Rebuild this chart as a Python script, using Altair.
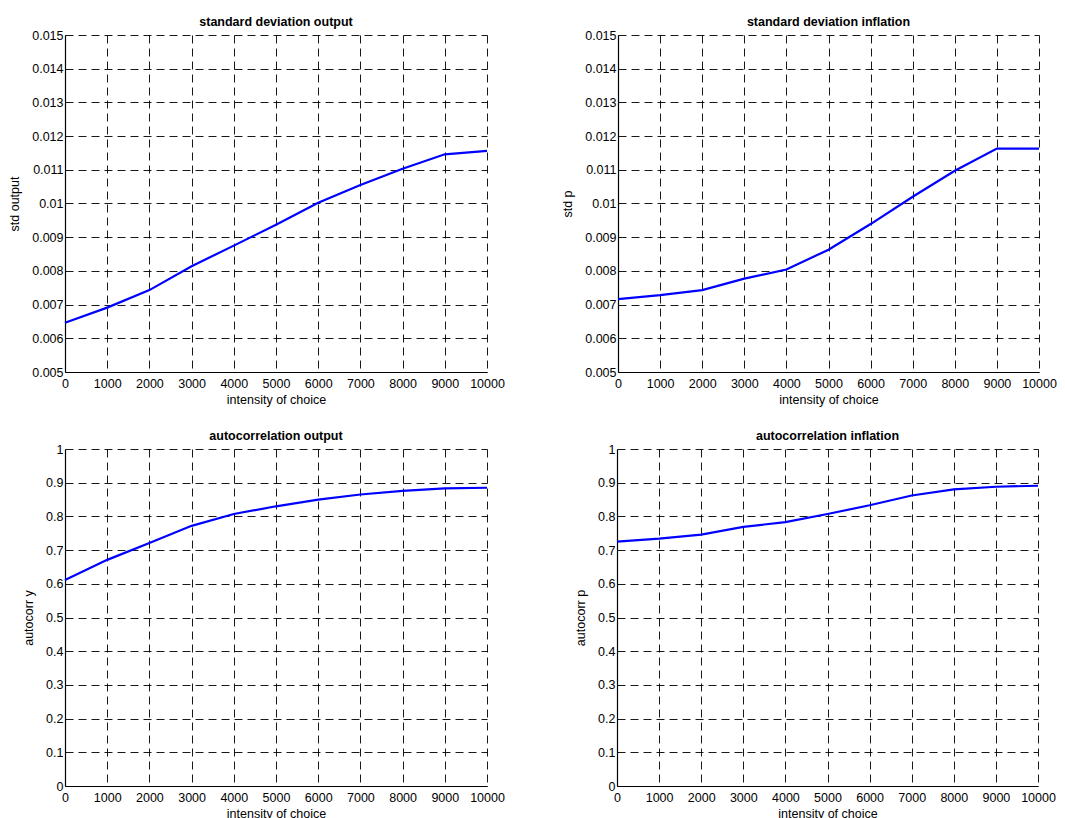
import altair as alt
import pandas as pd

intensity = [0, 1000, 2000, 3000, 4000, 5000, 6000, 7000, 8000, 9000, 10000]
std_output = [0.00646, 0.00691, 0.00743, 0.00814, 0.00875, 0.00937, 0.01002, 0.01055, 0.01103, 0.01146, 0.01156]
std_inflation = [0.00716, 0.00728, 0.00743, 0.00777, 0.00804, 0.00863, 0.00939, 0.01020, 0.01097, 0.01163, 0.01163]
ac_output = [0.611, 0.671, 0.721, 0.772, 0.807, 0.830, 0.850, 0.865, 0.876, 0.883, 0.885]
ac_inflation = [0.725, 0.734, 0.746, 0.769, 0.783, 0.807, 0.833, 0.862, 0.880, 0.888, 0.891]

x_ticks = intensity
std_ticks = [0.005, 0.006, 0.007, 0.008, 0.009, 0.01, 0.011, 0.012, 0.013, 0.014, 0.015]
ac_ticks = [0, 0.1, 0.2, 0.3, 0.4, 0.5, 0.6, 0.7, 0.8, 0.9, 1]

FONT = "Liberation Sans"


def panel(values, title, ytitle, ydomain, yticks, width):
    df = pd.DataFrame({"x": intensity, "y": values})
    return (
        alt.Chart(df)
        .mark_line(color="#0000FF", strokeWidth=2.2)
        .encode(
            x=alt.X(
                "x:Q",
                scale=alt.Scale(domain=[0, 10000], nice=False, zero=False),
                axis=alt.Axis(values=x_ticks, format="d", title="intensity of choice"),
            ),
            y=alt.Y(
                "y:Q",
                scale=alt.Scale(domain=ydomain, nice=False, zero=False),
                axis=alt.Axis(values=yticks, format="~g", title=ytitle),
            ),
        )
        .properties(
            width=width,
            height=337,
            title=alt.TitleParams(title, fontSize=12.5, font=FONT, fontWeight="bold", offset=1),
        )
    )


tl = panel(std_output, "standard deviation output", "std output", [0.005, 0.015], std_ticks, 422)
tr = panel(std_inflation, "standard deviation inflation", "std p", [0.005, 0.015], std_ticks, 421)
bl = panel(ac_output, "autocorrelation output", "autocorr y", [0, 1], ac_ticks, 422)
br = panel(ac_inflation, "autocorrelation inflation", "autocorr p", [0, 1], ac_ticks, 421)

chart = (
    alt.vconcat(
        alt.hconcat(tl, tr, spacing=56),
        alt.hconcat(bl, br, spacing=69),
        spacing=23,
    )
    .properties(padding={"left": 0, "top": 7, "right": 0, "bottom": 0}, background="white")
    .configure_view(stroke=None)
    .configure_axis(
        labelFont=FONT,
        titleFont=FONT,
        labelFontSize=12.5,
        titleFontSize=12.5,
        labelColor="#000000",
        titleColor="#000000",
        titleFontWeight="normal",
        domainColor="#000000",
        domainWidth=1.2,
        ticks=False,
        grid=True,
        gridColor="#000000",
        gridDash=[8, 5],
        gridWidth=1,
        gridOpacity=0.9,
    )
    .configure_axisX(titlePadding=4, labelPadding=5, labelFlush=False)
    .configure_axisY(titlePadding=10, labelPadding=2)
)

chart.save("out.html", embed_options={"renderer": "svg", "actions": False})
